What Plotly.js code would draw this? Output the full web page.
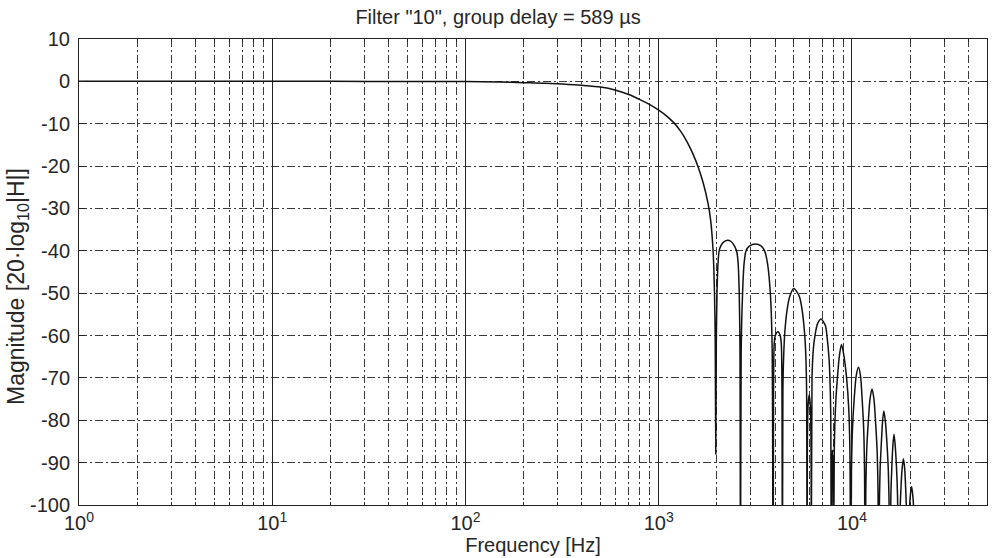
<!DOCTYPE html>
<html>
<head>
<meta charset="utf-8">
<script src="https://cdn.plot.ly/plotly-3.0.1.min.js"></script>
<style>html,body{margin:0;padding:0;background:#fff;}#chart{width:992px;height:558px;}</style>
</head>
<body>
<div id="chart"></div>
<script>
// Pass band and roll-off (frequency in Hz, magnitude in dB)
const passFreq = [1, 2, 5, 10, 20, 50, 100, 150, 200, 300, 400, 500, 600, 700, 800, 900, 1000, 1100, 1200, 1300, 1400, 1500, 1600, 1700, 1800, 1854, 1912, 1944, 1960];
const passMag  = [0, 0, 0, 0, 0, -0.01, -0.05, -0.15, -0.3, -0.55, -0.94, -1.35, -2.1, -3.1, -4.3, -5.5, -6.8, -8.2, -9.8, -11.8, -14.2, -17.0, -20.2, -24.0, -28.8, -32.5, -40, -50, -60];

// Stop band lobes and notches
const stopFreq = [1974, 1986, 2003, 2027, 2054, 2094, 2156, 2270, 2369, 2440, 2528, 2573, 2611, 2634, 2650,
  2671, 2712, 2766, 2831, 2943, 3177, 3372, 3532, 3658, 3782, 3862, 3908,
  3930, 3960, 4018, 4145, 4247, 4310, 4343, 4367,
  4393, 4432, 4497, 4632, 4770, 5000, 5210, 5366, 5525, 5690, 5775, 5826, 5860,
  5880, 5930, 6010, 6090, 6140, 6170,
  6214, 6318, 6439, 6625, 6920, 7284, 7423, 7601, 7692, 7765, 7820,
  7850, 7920, 7990, 8020,
  8103, 8221, 8410, 8621, 8830, 9078, 9383, 9618, 9759, 9860,
  9945, 10065, 10255, 10523, 10810, 11077, 11306, 11502, 11620, 11700,
  11795, 11930, 12145, 12403, 12700, 13001, 13256, 13495, 13649, 13760,
  13851, 13979, 14183, 14410, 14620, 14893, 15191, 15433, 15597, 15700,
  15902, 16089, 16295, 16510, 16734, 17003, 17222, 17460,
  17687, 17897, 18168, 18470, 18763, 19005, 19233, 19440,
  19650, 19850, 20100, 20380, 20620, 20880, 21100, 22050];
const stopMag = [-88, -62.5, -50, -43, -40, -38.9, -38.0, -37.5, -37.8, -38.5, -40, -42.5, -50, -63, -130,
  -64, -51, -43, -40, -38.9, -38.4, -38.8, -40, -43, -50, -62, -130,
  -72, -62, -59.9, -59.1, -59.9, -62, -72, -130,
  -73, -65, -59, -53.5, -50.7, -48.9, -49.8, -51, -54, -59.5, -65, -73, -130,
  -85, -76.5, -74, -76.5, -85, -130,
  -70, -63, -60, -57.3, -56.1, -57.6, -60, -65, -70, -78, -130,
  -95, -87, -95, -130,
  -87, -77, -70, -64.6, -62.1, -64.6, -70, -77, -87, -130,
  -92, -82, -75.4, -69.5, -67.5, -69.5, -75.4, -82, -92, -130,
  -97, -87, -80.5, -75, -72.6, -75, -80.5, -87, -97, -130,
  -102, -92, -85.7, -80.2, -77.8, -80.2, -85.7, -92, -102, -130,
  -98, -91, -85.8, -83.3, -85.8, -91, -98, -130,
  -104, -97, -91.6, -89.1, -91.6, -97, -104, -130,
  -108, -101, -97.3, -95.7, -97.5, -101, -110, -140];

const xTickVals = [1, 10, 100, 1000, 10000];
const xTickText = ['10<sup>0</sup>', '10<sup>1</sup>', '10<sup>2</sup>', '10<sup>3</sup>', '10<sup>4</sup>'];
const yTickVals = [10, 0, -10, -20, -30, -40, -50, -60, -70, -80, -90, -100];
const yTickText = ['10', '0', '-10', '-20', '-30', '-40', '-50', '-60', '-70', '-80', '-90', '-100'];
const titleText = 'Filter "10", group delay = 589 µs';
const xTitle = 'Frequency [Hz]';
const yTitle = 'Magnitude [20·log<sub>10</sub>|H|]';

const minorVals = [];
for (let k = 0; k < 5; k++) {
  for (let m = 2; m <= 9; m++) {
    const v = m * Math.pow(10, k);
    if (v < 50000) minorVals.push(v);
  }
}

const freq = passFreq.concat(stopFreq);
const mag = passMag.concat(stopMag);

const FONT = 'Liberation Sans, Arial, sans-serif';
const TXT = '#262626';
const DASH = '8px,3px,2px,3px';

const trace = {
  x: freq, y: mag, type: 'scatter', mode: 'lines',
  line: {color: '#111', width: 1.5, shape: 'spline', smoothing: 0.7},
  hoverinfo: 'skip', showlegend: false
};

const layout = {
  width: 992, height: 558,
  margin: {l: 79, r: 5, t: 39, b: 53},
  paper_bgcolor: '#fff', plot_bgcolor: '#fff',
  font: {family: FONT, size: 20, color: TXT},
  title: {text: titleText, font: {family: FONT, size: 20, color: TXT},
          x: 0.4615, xref: 'paper', xanchor: 'center', y: 1 - 16.5/558, yref: 'container', yanchor: 'middle'},
  xaxis: {
    type: 'log', range: [0, Math.log10(50000)],
    tickmode: 'array', tickvals: xTickVals, ticktext: xTickText,
    tickfont: {size: 20, color: TXT},
    ticks: 'inside', ticklen: 6, tickcolor: '#222', tickwidth: 1,
    showline: true, linecolor: '#222', linewidth: 1, mirror: 'ticks',
    showgrid: true, gridcolor: '#222', gridwidth: 1, griddash: 'solid',
    minor: {tickmode: 'array', tickvals: minorVals, ticks: 'inside', ticklen: 3, tickcolor: '#222',
            showgrid: true, gridcolor: '#3a3a3a', gridwidth: 1, griddash: DASH},
    zeroline: false,
    title: {text: xTitle, font: {size: 20, color: TXT}, standoff: 4}
  },
  yaxis: {
    range: [-100, 10],
    tickmode: 'array', tickvals: yTickVals, ticktext: yTickText,
    tickfont: {size: 20, color: TXT},
    ticks: 'inside', ticklen: 6, tickcolor: '#222', tickwidth: 1,
    showline: true, linecolor: '#222', linewidth: 1, mirror: 'ticks',
    showgrid: true, gridcolor: '#3a3a3a', gridwidth: 1, griddash: DASH,
    zeroline: false, ticklabelstandoff: 4
  },
  annotations: [{
    text: yTitle, textangle: -90, showarrow: false,
    xref: 'paper', yref: 'paper',
    x: (17 - 79) / 908, y: (505 - 287) / 466,
    xanchor: 'center', yanchor: 'middle',
    font: {family: FONT, size: 23, color: TXT}
  }]
};

Plotly.newPlot('chart', [trace], layout, {staticPlot: true, displayModeBar: false});
</script>
</body>
</html>
